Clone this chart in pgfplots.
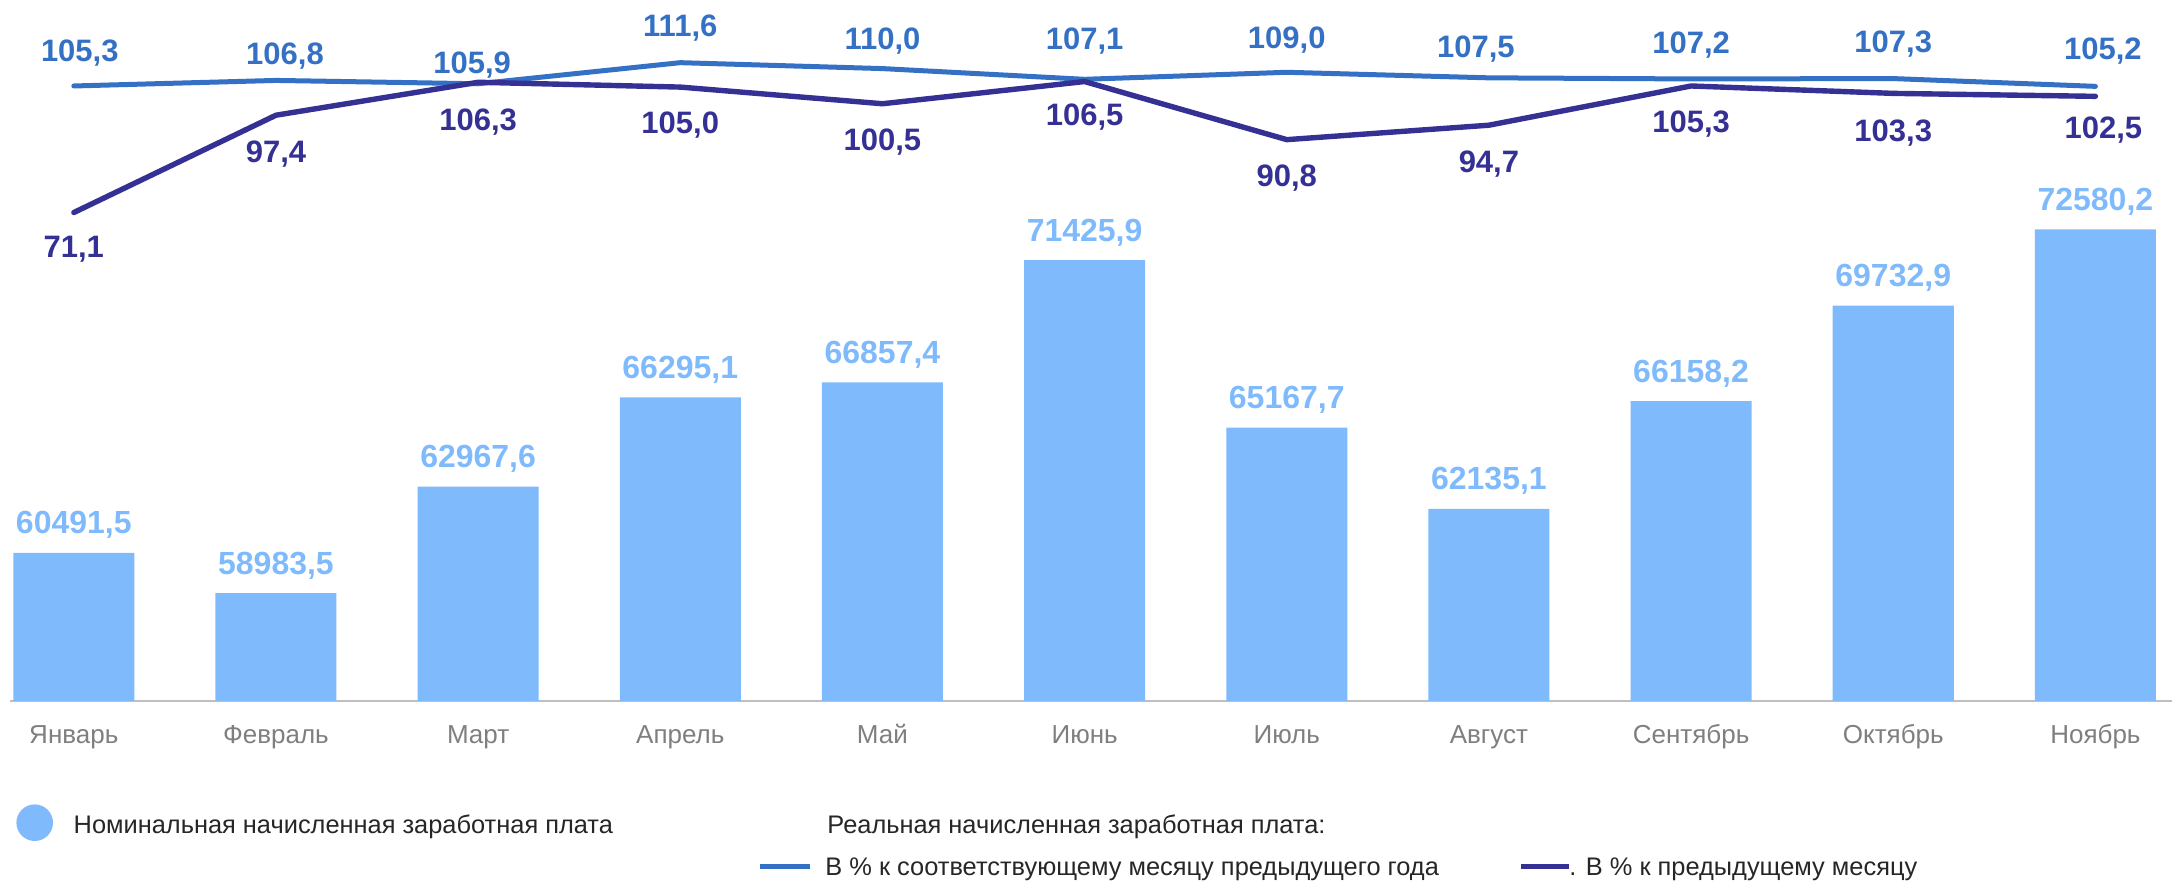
\documentclass[border=0pt]{standalone}
\usepackage{fontspec}
\setmainfont{Liberation Sans}
\usepackage{pgfplots}
\pgfplotsset{compat=1.18}
\usepackage{pgfplotstable}

\definecolor{barc}{HTML}{7FBBFC}
\definecolor{lineA}{HTML}{3471C4}
\definecolor{lineB}{HTML}{343094}
\definecolor{tickc}{HTML}{7F7F7F}
\definecolor{legc}{HTML}{262626}
\definecolor{axc}{HTML}{BFBFBF}

\pgfplotstableread{
x y lab
0 60491.5 60491,5
1 58983.5 58983,5
2 62967.6 62967,6
3 66295.1 66295,1
4 66857.4 66857,4
5 71425.9 71425,9
6 65167.7 65167,7
7 62135.1 62135,1
8 66158.2 66158,2
9 69732.9 69732,9
10 72580.2 72580,2
}\bardata

\pgfplotstableread{
x y dy dx lab
0 105.3 16.5 3 105,3
1 106.8 12 4.5 106,8
2 105.9 9.5 -3 105,9
3 111.6 17.25 0 111,6
4 110.0 14 0 110,0
5 107.1 19 0 107,1
6 109.0 16 0 109,0
7 107.5 14.2 -6.5 107,5
8 107.2 17 0 107,2
9 107.3 17.2 0 107,3
10 105.2 17.6 3.75 105,2
}\lineAdata

\pgfplotstableread{
x y dy dx lab
0 71.1 -18.5 0 71,1
1 97.4 -19.5 0 97,4
2 106.3 -19.85 0 106,3
3 105.0 -18.85 0 105,0
4 100.5 -19 0 100,5
5 106.5 -18 0 106,5
6 90.8 -19 0 90,8
7 94.7 -19.5 0 94,7
8 105.3 -19.1 0 105,3
9 103.3 -19.85 0 103,3
10 102.5 -16.7 4 102,5
}\lineBdata

\begin{document}
\begin{tikzpicture}
\useasboundingbox (-5pt,-90.5pt) rectangle (1081pt,350.5pt);
\begin{axis}[
  width=1081pt, height=350.5pt, scale only axis,
  xmin=-0.3156, xmax=10.379,
  ymin=54950, ymax=81154,
  clip=false,
  axis x line=bottom, axis y line=none,
  x axis line style={-, draw=axc, line width=1pt},
  xtick={0,...,10},
  xticklabels={Январь,Февраль,Март,Апрель,Май,Июнь,Июль,Август,Сентябрь,Октябрь,Ноябрь},
  major tick length=0pt,
  ytick=\empty,
  xticklabel style={font=\fontsize{13}{15}\selectfont, text=tickc, anchor=base, yshift=-21.5pt},
]
\addplot[ybar, bar width=0.5986, fill=barc, draw=none,
  nodes near coords, point meta=explicit symbolic,
  nodes near coords style={anchor=center, yshift=13.85pt, text=barc,
    font=\fontsize{16}{18}\selectfont\bfseries}]
  table[x=x, y=y, meta=lab] {\bardata};
\end{axis}

\begin{axis}[
  width=1081pt, height=350.5pt, scale only axis,
  xmin=-0.3156, xmax=10.379,
  ymin=-60.9, ymax=128.54,
  clip=false,
  hide axis,
]
\addplot[lineA, line width=2.5pt, line cap=round, line join=round,
  nodes near coords, point meta=explicit symbolic,
  visualization depends on={\thisrow{dy} \as \labdy},
  visualization depends on={\thisrow{dx} \as \labdx},
  nodes near coords style={anchor=center, yshift=\labdy pt, xshift=\labdx pt, text=lineA,
    font=\fontsize{15.5}{18}\selectfont\bfseries}]
  table[x=x, y=y, meta=lab] {\lineAdata};
\addplot[lineB, line width=2.7pt, line cap=round, line join=round,
  nodes near coords, point meta=explicit symbolic,
  visualization depends on={\thisrow{dy} \as \labdy},
  visualization depends on={\thisrow{dx} \as \labdx},
  nodes near coords style={anchor=center, yshift=\labdy pt, xshift=\labdx pt, text=lineB,
    font=\fontsize{15.5}{18}\selectfont\bfseries}]
  table[x=x, y=y, meta=lab] {\lineBdata};
\end{axis}

% legend
\fill[barc] (12.35pt,-60.85pt) circle (9.15pt);
\node[anchor=base west, inner sep=0pt, text=legc, font=\fontsize{12.7}{15}\selectfont]
  at (31.65pt,-66.15pt) {Номинальная начисленная заработная плата};
\node[anchor=base west, inner sep=0pt, text=legc, font=\fontsize{12.7}{15}\selectfont]
  at (408.5pt,-66.15pt) {Реальная начисленная заработная плата:};
\draw[lineA, line width=2.5pt] (375pt,-82.5pt) -- (400pt,-82.5pt);
\node[anchor=base west, inner sep=0pt, text=legc, font=\fontsize{12.7}{15}\selectfont]
  at (407.5pt,-87.25pt) {В \% к соответствующему месяцу предыдущего года};
\draw[lineB, line width=2.5pt] (755.5pt,-82.5pt) -- (779.5pt,-82.5pt);
\node[anchor=base west, inner sep=0pt, text=legc, font=\fontsize{12.7}{15}\selectfont]
  at (779.5pt,-87.25pt) {. В \% к предыдущему месяцу};
\end{tikzpicture}
\end{document}
